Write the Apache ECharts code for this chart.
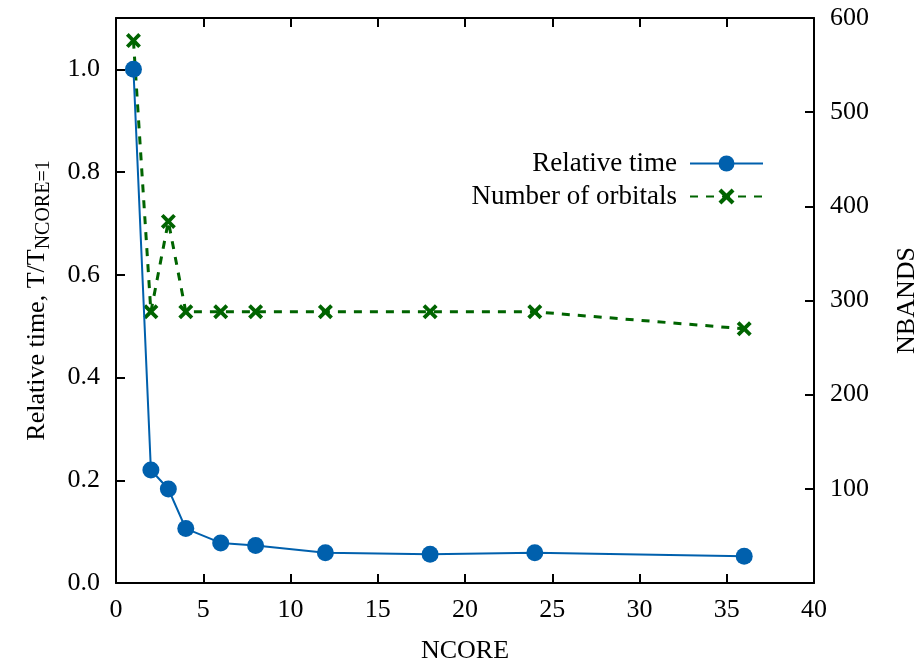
<!DOCTYPE html>
<html>
<head>
<meta charset="utf-8">
<script src="https://cdn.jsdelivr.net/npm/echarts@6/dist/echarts.min.js"></script>
<style>html,body{margin:0;padding:0;background:#fff}#c{width:921px;height:661px}</style>
</head>
<body>
<div id="c"></div>
<script>
const ncore = [1, 2, 3, 4, 6, 8, 12, 18, 24, 36];
const relTime = [1.0, 0.22, 0.183, 0.106, 0.078, 0.073, 0.059, 0.056, 0.059, 0.052];
const nbands = [576, 288, 384, 288, 288, 288, 288, 288, 288, 270];
const xTicks = [0, 5, 10, 15, 20, 25, 30, 35, 40];
const leftTicks = [0, 0.2, 0.4, 0.6, 0.8, 1.0];
const rightTicks = [100, 200, 300, 400, 500, 600];

const FONT = 'Liberation Serif';
const BLUE = '#0060ad';
const GREEN = '#006400';
const XSYM = 'path://M0,1.8L1.8,0L5,3.2L8.2,0L10,1.8L6.8,5L10,8.2L8.2,10L5,6.8L1.8,10L0,8.2L3.2,5Z';

const chart = echarts.init(document.getElementById('c'), null, {renderer: 'canvas'});
const axisLine = {show: true, onZero: false, lineStyle: {color: '#000', width: 2}};
const tick = {show: true, inside: true, length: 9, lineStyle: {color: '#000', width: 2}};
const lbl = {fontFamily: FONT, fontSize: 26, color: '#000'};

chart.setOption({
  animation: false,
  backgroundColor: '#fff',
  grid: {left: 116, right: 107, top: 18, bottom: 78, containLabel: false, outerBoundsMode: 'none'},
  legend: {
    orient: 'vertical', align: 'right', right: 152, top: 145,
    itemWidth: 73, itemHeight: 20, itemGap: 6,
    textStyle: {fontFamily: FONT, fontSize: 27, color: '#000', padding: [0, 8, 0, 0]},
    data: ['Relative time', 'Number of orbitals']
  },
  xAxis: [{
    type: 'value', min: xTicks[0], max: xTicks[xTicks.length - 1], interval: 5, position: 'bottom',
    name: 'NCORE', nameLocation: 'middle', nameGap: 55,
    nameTextStyle: {fontFamily: FONT, fontSize: 26, color: '#000'},
    axisLine, axisTick: tick, splitLine: {show: false},
    axisLabel: Object.assign({margin: 14}, lbl)
  }, {
    type: 'value', min: xTicks[0], max: xTicks[xTicks.length - 1], interval: 5, position: 'top',
    axisLine, axisTick: tick, splitLine: {show: false}, axisLabel: {show: false}
  }],
  yAxis: [{
    type: 'value', min: 0, max: 1.1, interval: 0.2, position: 'left',
    name: '{a|Relative time, T/T}{b|NCORE=1}', nameLocation: 'middle', nameGap: 62, nameRotate: 90,
    nameTextStyle: {
      fontFamily: FONT, color: '#000',
      rich: {
        a: {fontFamily: FONT, fontSize: 26, color: '#000', lineHeight: 34},
        b: {fontFamily: FONT, fontSize: 20, color: '#000', lineHeight: 21, verticalAlign: 'bottom'}
      }
    },
    axisLine, axisTick: tick, splitLine: {show: false},
    axisLabel: Object.assign({margin: 16, showMaxLabel: false, formatter: v => leftTicks.some(t => Math.abs(t - v) < 1e-9) ? v.toFixed(1) : ''}, lbl)
  }, {
    type: 'value', min: 0, max: 600, interval: 100, position: 'right',
    name: 'NBANDS', nameLocation: 'middle', nameGap: 80, nameRotate: 90,
    nameTextStyle: {fontFamily: FONT, fontSize: 26, color: '#000'},
    axisLine, axisTick: tick, splitLine: {show: false},
    axisLabel: Object.assign({margin: 16, formatter: v => rightTicks.indexOf(v) >= 0 ? String(v) : ''}, lbl)
  }],
  series: [{
    name: 'Relative time', type: 'line', xAxisIndex: 0, yAxisIndex: 0,
    data: ncore.map((x, i) => [x, relTime[i]]),
    symbol: 'circle', symbolSize: 17, showAllSymbol: true,
    lineStyle: {color: BLUE, width: 2},
    itemStyle: {color: BLUE},
    z: 3
  }, {
    name: 'Number of orbitals', type: 'line', xAxisIndex: 0, yAxisIndex: 1,
    data: ncore.map((x, i) => [x, nbands[i]]),
    symbol: XSYM, symbolSize: 15, showAllSymbol: true,
    lineStyle: {color: GREEN, width: 3, type: [8, 8]},
    itemStyle: {color: GREEN},
    z: 2
  }]
});
</script>
</body>
</html>
